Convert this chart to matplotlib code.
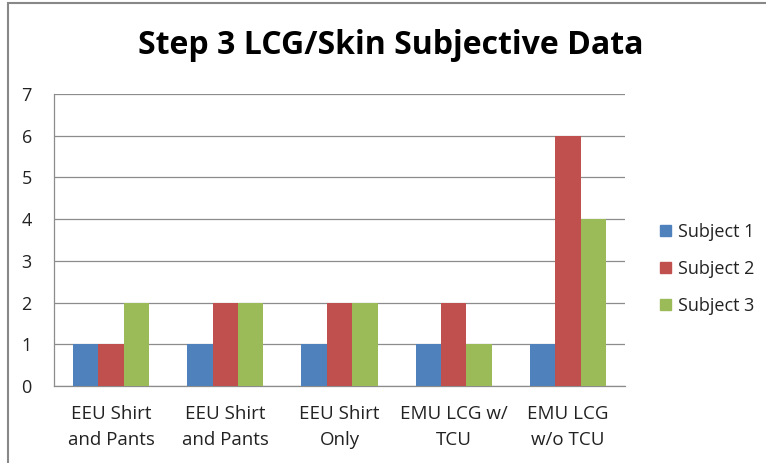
import matplotlib
matplotlib.use("Agg")
import matplotlib.pyplot as plt
import matplotlib.patches as mpatches
import numpy as np

CATEGORIES = ['EEU Shirt\nand Pants', 'EEU Shirt\nand Pants', 'EEU Shirt\nOnly',
              'EMU LCG w/\nTCU', 'EMU LCG\nw/o TCU']
SERIES = ['Subject 1', 'Subject 2', 'Subject 3']
SUBJECT_1 = [1, 1, 1, 1, 1]
SUBJECT_2 = [1, 2, 2, 2, 6]
SUBJECT_3 = [2, 2, 2, 1, 4]
COLORS = ['#4F81BD', '#C0504D', '#9BBB59']

plt.rcParams['font.family'] = ['Open Sans', 'DejaVu Sans']

fig = plt.figure(figsize=(7.66, 4.63), dpi=100)
W, H = 766, 463
ax = fig.add_axes([54 / W, 1 - 386 / H, (625 - 54) / W, (386 - 94) / H])

x = np.arange(len(CATEGORIES))
bw = 0.222
for i, (vals, col) in enumerate(zip([SUBJECT_1, SUBJECT_2, SUBJECT_3], COLORS)):
    ax.bar(x + (i - 1) * bw, vals, width=bw, color=col, label=SERIES[i], zorder=3)

ax.set_xlim(-0.5, len(CATEGORIES) - 0.5)
ax.set_ylim(0, 7)
ax.set_yticks(range(0, 8))
ax.yaxis.grid(True, color='#8c8c8c', linewidth=0.9, zorder=0)
ax.set_xticks(x)
ax.set_xticklabels(CATEGORIES, fontsize=13.5, color='#222222', linespacing=1.55)
ax.tick_params(axis='y', labelsize=13, colors='#222222', length=0, pad=16)
ax.tick_params(axis='x', length=0, pad=14)
for s in ['top', 'right']:
    ax.spines[s].set_visible(False)
for s in ['left', 'bottom']:
    ax.spines[s].set_color('#8c8c8c')
    ax.spines[s].set_linewidth(0.9)

fig.text(391 / W, 1 - 46 / H, 'Step 3 LCG/Skin Subjective Data', ha='center', va='center',
         fontsize=23, fontweight='bold', color='black')

leg = fig.legend(handles=[mpatches.Patch(color=c, label=l) for c, l in zip(COLORS, SERIES)],
                 loc='center left', bbox_to_anchor=(644 / W, 1 - 269 / H), frameon=False,
                 fontsize=13, handlelength=0.6, handleheight=0.6, handletextpad=0.4,
                 labelspacing=1.05)
for t in leg.get_texts():
    t.set_color('#222222')

# outer chart border (cropped on right and bottom)
fig.patches.append(mpatches.Rectangle((8 / W, -0.1), 1.2, 1 - 3 / H + 0.1,
                                      transform=fig.transFigure, fill=False,
                                      edgecolor='#888888', linewidth=1.5))

fig.savefig('out.png', dpi=100)
